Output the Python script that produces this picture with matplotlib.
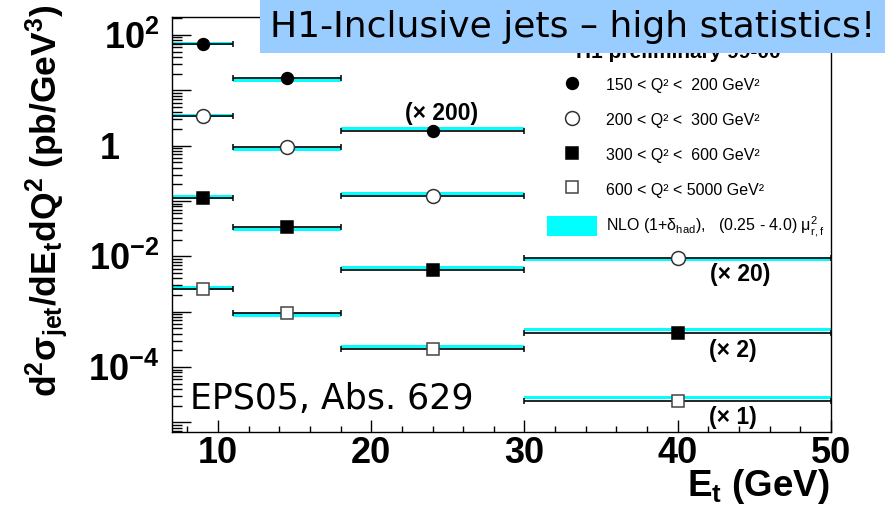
import matplotlib
matplotlib.use("Agg")
import matplotlib.pyplot as plt
from matplotlib.lines import Line2D
from matplotlib.patches import Patch, Rectangle
from matplotlib.ticker import MultipleLocator, FixedLocator, FixedFormatter, LogLocator, NullFormatter

plt.rcParams['font.family'] = ['Liberation Sans', 'DejaVu Sans']
plt.rcParams['mathtext.fontset'] = 'custom'
plt.rcParams['mathtext.rm'] = 'Liberation Sans'
plt.rcParams['mathtext.it'] = 'Liberation Sans:italic'
plt.rcParams['mathtext.bf'] = 'Liberation Sans:bold'

# ---------------- data ----------------
bin_edges = [7, 11, 18, 30, 50]
et_points = [9, 14.5, 24, 40]

series_labels = ["150 < Q² <  200 GeV²",
                 "200 < Q² <  300 GeV²",
                 "300 < Q² <  600 GeV²",
                 "600 < Q² < 5000 GeV²"]
nlo_label = r"NLO (1+δ$_{\mathrm{had}}$),   (0.25 - 4.0) μ$^{2}_{\mathrm{r,f}}$"

xsec_q150 = [68.9, 16.7, 1.85]
xsec_q200 = [3.45, 0.95, 0.124, 0.0094]
xsec_q300 = [0.114, 0.0342, 0.00573, 4.18e-4]
xsec_q600 = [2.6e-3, 9.6e-4, 2.15e-4, 2.48e-5]

nlo_q150 = [71.0, 15.2, 2.05]
nlo_q200 = [3.55, 0.86, 0.137, 0.0087]
nlo_q300 = [0.118, 0.031, 0.0063, 4.7e-4]
nlo_q600 = [2.68e-3, 8.7e-4, 2.37e-4, 2.8e-5]
nlo_band_factor = 1.07

scale_labels = ["(× 200)", "(× 20)", "(× 2)", "(× 1)"]

xtick_values = [10, 20, 30, 40, 50]
xtick_labels = ["10", "20", "30", "40", "50"]
ytick_values = [1e-5, 1e-4, 1e-3, 1e-2, 1e-1, 1, 1e1, 1e2]
ytick_labels = ["", r"$\mathbf{10^{-4}}$", "", r"$\mathbf{10^{-2}}$", "", "1    ", "", r"$\mathbf{10^{2}}$"]

# ---------------- figure ----------------
W, H = 885, 515
fig = plt.figure(figsize=(W / 100, H / 100), dpi=100)

def fx(px):
    return px / W

def fy(py):
    return 1 - py / H

ax = fig.add_axes([fx(172), fy(432), fx(831) - fx(172), fy(17) - fy(432)])
ax.set_yscale('log')
ax.set_xlim(7, 50)
ax.set_ylim(6.7e-6, 211)

styles = [
    dict(marker='o', ms=8.5, mfc='black', mec='black'),
    dict(marker='o', ms=10, mfc='white', mec='#333333'),
    dict(marker='s', ms=8.2, mfc='black', mec='black'),
    dict(marker='s', ms=9, mfc='white', mec='#444444'),
]
label_offsets = [(9, 17), (62, -17), (55, -18), (55, -17)]

all_xsec = [xsec_q150, xsec_q200, xsec_q300, xsec_q600]
all_nlo = [nlo_q150, nlo_q200, nlo_q300, nlo_q600]

for k, (vals, nlo, st) in enumerate(zip(all_xsec, all_nlo, styles)):
    n = len(vals)
    xs = et_points[:n]
    for i in range(n):
        ax.fill_between([bin_edges[i], bin_edges[i + 1]],
                        nlo[i] / nlo_band_factor, nlo[i] * nlo_band_factor,
                        color='#00FFFF', lw=0, zorder=1)
    xerr_lo = [et_points[i] - bin_edges[i] for i in range(n)]
    xerr_hi = [bin_edges[i + 1] - et_points[i] for i in range(n)]
    ax.errorbar(xs, vals, xerr=[xerr_lo, xerr_hi], fmt=st['marker'], ms=st['ms'],
                mfc=st['mfc'], mec=st['mec'], mew=1.1, ecolor='black',
                elinewidth=1.2, capsize=2.2, capthick=1.0, zorder=3, clip_on=True)
    dx, dy = label_offsets[k]
    ax.annotate(scale_labels[k], xy=(xs[-1], vals[-1]), xytext=(dx, dy),
                textcoords='offset pixels', ha='center', va='center',
                fontsize=16.5, fontweight='bold', zorder=4)

# axes styling
for sp in ax.spines.values():
    sp.set_linewidth(1.0)
ax.xaxis.set_major_locator(FixedLocator(xtick_values))
ax.xaxis.set_major_formatter(FixedFormatter(xtick_labels))
ax.xaxis.set_minor_locator(MultipleLocator(2))
ax.yaxis.set_major_locator(FixedLocator(ytick_values))
ax.yaxis.set_major_formatter(FixedFormatter(ytick_labels))
ax.yaxis.set_minor_locator(LogLocator(base=10, subs=range(2, 10), numticks=50))
ax.yaxis.set_minor_formatter(NullFormatter())
ax.tick_params(axis='x', which='major', direction='in', length=8.5, width=1.0,
               labelsize=26, pad=3, top=False)
ax.tick_params(axis='x', which='minor', direction='in', length=4.3, width=1.0, top=False)
ax.tick_params(axis='y', which='major', direction='in', length=14, width=1.0,
               labelsize=26, pad=9, right=False)
ax.tick_params(axis='y', which='minor', direction='in', length=7, width=1.0, right=False)
for lab in ax.get_xticklabels() + ax.get_yticklabels():
    lab.set_fontweight('bold')

# axis titles
fig.text(fx(830), fy(496), r"E$_{\mathbf{t}}$ (GeV)", ha='right', va='baseline',
         fontsize=26.5, fontweight='bold')
fig.text(fx(47), fy(5),
         r"d$^{\mathbf{2}}$σ$_{\mathbf{jet}}$/dE$_{\mathbf{t}}$dQ$^{\mathbf{2}}$ (pb/GeV$^{\mathbf{3}}$)",
         rotation=90, ha='center', va='top', fontsize=25.5, fontweight='bold')

# legend
handles = [Line2D([], [], ls='none', marker=s['marker'], ms=s['ms'], mfc=s['mfc'],
                  mec=s['mec'], mew=1.1) for s in styles]
handles.append(Patch(facecolor='#00FFFF', edgecolor='none'))
ax.legend(handles, series_labels + [nlo_label], loc='upper left',
          bbox_to_anchor=(fx(547), fy(75)), bbox_transform=fig.transFigure,
          frameon=False, fontsize=11.5, handlelength=3.1, handleheight=1.6,
          handletextpad=0.62, labelspacing=0.9, borderpad=0, borderaxespad=0)

fig.text(fx(678), fy(58), "H1 preliminary 99-00", ha='center', va='baseline',
         fontsize=15, fontweight='bold', zorder=5)

# EPS note
fig.text(fx(190), fy(409), "EPS05, Abs. 629", ha='left', va='baseline',
         fontsize=25, family='DejaVu Sans', zorder=6)

# title banner
fig.add_artist(Rectangle((fx(260), fy(53)), 1 - fx(260), fy(0) - fy(53),
                         transform=fig.transFigure, facecolor='#99CCFF',
                         edgecolor='none', zorder=10))
fig.text(fx(270), fy(37), "H1-Inclusive jets – high statistics!", ha='left',
         va='baseline', fontsize=26, family='DejaVu Sans', zorder=11)

fig.savefig("out.png", dpi=100)
